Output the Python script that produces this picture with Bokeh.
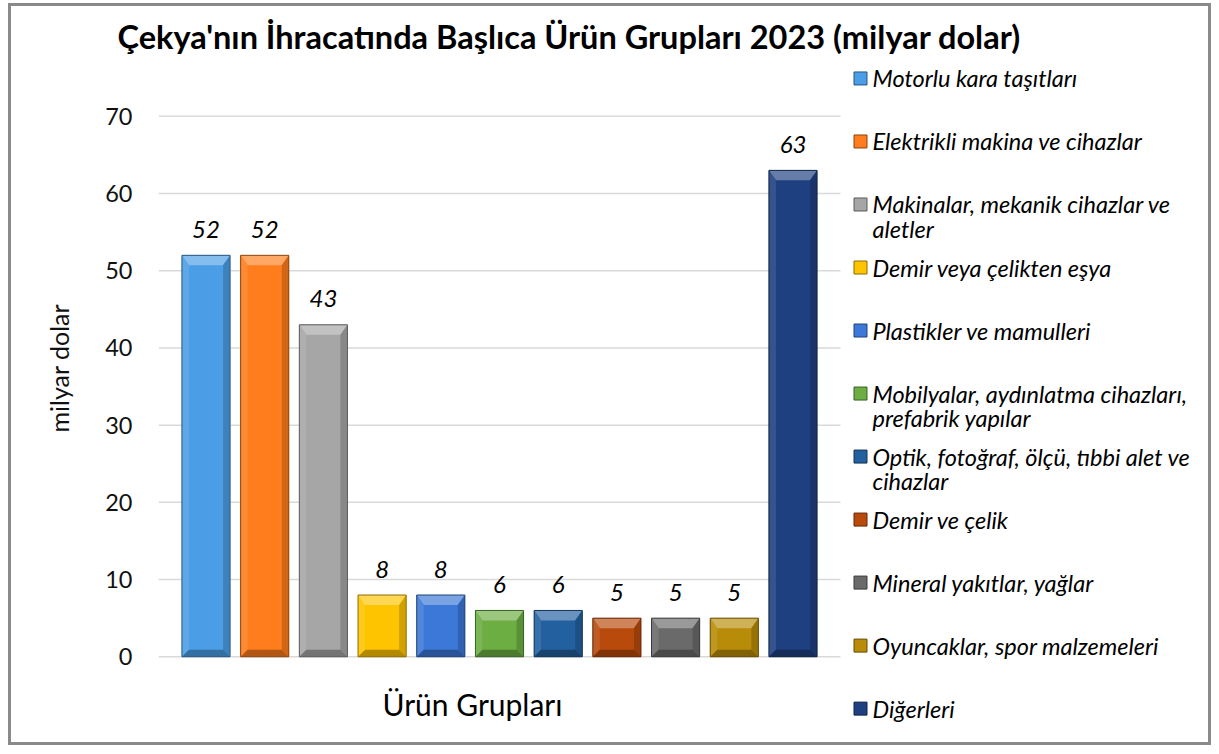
from bokeh.plotting import figure
from bokeh.models import FixedTicker, Title
from bokeh.core.properties import value
from bokeh.embed import file_html
from bokeh.resources import INLINE

# ---------------- data ----------------
title_text = "Çekya'nın İhracatında Başlıca Ürün Grupları 2023 (milyar dolar)"
categories = [
    "Motorlu kara taşıtları",
    "Elektrikli makina ve cihazlar",
    "Makinalar, mekanik cihazlar ve aletler",
    "Demir veya çelikten eşya",
    "Plastikler ve mamulleri",
    "Mobilyalar, aydınlatma cihazları, prefabrik yapılar",
    "Optik, fotoğraf, ölçü, tıbbi alet ve cihazlar",
    "Demir ve çelik",
    "Mineral yakıtlar, yağlar",
    "Oyuncaklar, spor malzemeleri",
    "Diğerleri",
]
legend_lines = [
    ["Motorlu kara taşıtları"],
    ["Elektrikli makina ve cihazlar"],
    ["Makinalar, mekanik cihazlar ve", "aletler"],
    ["Demir veya çelikten eşya"],
    ["Plastikler ve mamulleri"],
    ["Mobilyalar, aydınlatma cihazları,", "prefabrik yapılar"],
    ["Optik, fotoğraf, ölçü, tıbbi alet ve", "cihazlar"],
    ["Demir ve çelik"],
    ["Mineral yakıtlar, yağlar"],
    ["Oyuncaklar, spor malzemeleri"],
    ["Diğerleri"],
]
values = [52, 52, 43, 8, 8, 6, 6, 5, 5, 5, 63]
colors = ["#4b9ee6", "#ff7d1c", "#a6a6a6", "#ffc400", "#3c78d8", "#6cae42",
          "#22609f", "#b84a0c", "#6a6a6a", "#b88c08", "#1f4080"]
y_ticks = [0, 10, 20, 30, 40, 50, 60, 70]
x_title = "Ürün Grupları"
y_title = "milyar dolar"

# ---------------- geometry (page pixels) ----------------
OX, OY = 11, 6            # canvas origin on the page (margin + border)
W, H = 1203, 742          # canvas size
FRAME_L, FRAME_T = 158, 62  # frame left / top on the page
X0_PX, PX_PER_X = 205.5, 58.7
Y0_PX, PX_PER_Y = 656.0, 7.743
GRID_R = 840


def cx(px):
    return (px - X0_PX) / PX_PER_X


def cy(py):
    return (Y0_PX - py) / PX_PER_Y


def mix(hex_color, target, t):
    h = hex_color.lstrip("#")
    r, g, b = (int(h[i:i + 2], 16) for i in (0, 2, 4))
    tr, tg, tb = target
    r = round(r + (tr - r) * t)
    g = round(g + (tg - g) * t)
    b = round(b + (tb - b) * t)
    return "#%02x%02x%02x" % (r, g, b)


WHITE, BLACK = (255, 255, 255), (0, 0, 0)

p = figure(width=W, height=H, output_backend="svg", toolbar_location=None,
           x_range=(cx(FRAME_L), cx(OX + W)), y_range=(cy(OY + H), cy(FRAME_T)),
           x_axis_location=None,
           min_border_left=FRAME_L - OX, min_border_top=FRAME_T - OY,
           min_border_right=0, min_border_bottom=0)
p.styles = {"border": "3px solid #8a8a8a", "margin-left": "8px", "margin-top": "3px"}
p.outline_line_color = None
p.background_fill_color = "white"
p.border_fill_color = "white"
p.xgrid.visible = False
p.ygrid.visible = False

# title
p.title.text = title_text
p.title.text_font = "Lato"
p.title.text_font_size = "32.5px"
p.title.text_font_style = "bold"
p.title.text_color = "#000000"
p.title.align = "left"
p.title.offset = 117 - FRAME_L
p.title.standoff = 17

# y axis
ax = p.yaxis[0]
ax.ticker = FixedTicker(ticks=y_ticks)
ax.bounds = (0, 70)
ax.axis_line_color = None
ax.major_tick_line_color = None
ax.minor_tick_line_color = None
ax.major_tick_out = 0
ax.major_label_standoff = 26
ax.major_label_text_font = "Lato"
ax.major_label_text_font_size = "23.5px"
ax.major_label_text_color = "#111111"

# y axis title (side panel), starting where the reference text starts
p.add_layout(Title(text=y_title, align="left", offset=(OY + H) - 432,
                   standoff=57, text_font="Lato", text_font_size="25px",
                   text_font_style="normal", text_color="#111111"), "left")

# gridlines (stop at the end of the bar area)
n = len(y_ticks)
p.segment(x0=[cx(FRAME_L)] * n, x1=[cx(GRID_R)] * n, y0=y_ticks, y1=y_ticks,
          line_color="#d9d9d9", line_width=1.5)

idx = list(range(len(values)))
bw = 0.82
dark_lines = [mix(c, BLACK, 0.45) for c in colors]

# bars
p.vbar(x=idx, top=values, bottom=0, width=bw, fill_color=colors,
       line_color=None)

# bevel facets derived from each bar's value
ex = 7 / PX_PER_X
ey_top = 10 / PX_PER_Y
ey_bot = 7 / PX_PER_Y
xs, ys, fc = [], [], []
for i, v in zip(idx, values):
    L, R = i - bw / 2, i + bw / 2
    c = colors[i]
    xs.append([L, R, R - ex, L + ex]); ys.append([v, v, v - ey_top, v - ey_top]); fc.append(mix(c, WHITE, 0.32))
    xs.append([L, L + ex, L + ex, L]); ys.append([v, v - ey_top, ey_bot, 0]); fc.append(mix(c, WHITE, 0.10))
    xs.append([R, R - ex, R - ex, R]); ys.append([v, v - ey_top, ey_bot, 0]); fc.append(mix(c, BLACK, 0.18))
    xs.append([L, R, R - ex, L + ex]); ys.append([0, 0, ey_bot, ey_bot]); fc.append(mix(c, BLACK, 0.30))
p.patches(xs=xs, ys=ys, fill_color=fc, line_color=None)
p.vbar(x=idx, top=values, bottom=0, width=bw, fill_color=None,
       line_color=dark_lines, line_width=1)

# value labels
p.text(x=idx, y=values, text=[str(v) for v in values], y_offset=-26,
       text_align="center", text_baseline="middle", text_font=value("Lato"),
       text_font_style="italic", text_font_size="24px", text_color="#000000")

# legend (manual)
leg_y0, leg_step, line_gap = 76, 63.2, 24.5
sq_x, txt_x = cx(860), cx(872)
sq_y = [cy(leg_y0 + leg_step * i) for i in idx]
p.scatter(x=[sq_x] * len(idx), y=sq_y, marker="square", size=13,
          fill_color=colors, line_color=dark_lines, line_width=1)
lx, ly, lt = [], [], []
for i, lines in enumerate(legend_lines):
    for k, t in enumerate(lines):
        lx.append(txt_x)
        ly.append(cy(leg_y0 + leg_step * i + line_gap * k))
        lt.append(t)
p.text(x=lx, y=ly, text=lt, text_align="left", text_baseline="middle",
       text_font=value("Lato"), text_font_style="italic", text_font_size="23.5px",
       text_color="#000000")

# x axis title
p.text(x=[cx(472)], y=[cy(703)], text=[x_title], text_align="center",
       text_baseline="middle", text_font=value("Lato"), text_font_size="30px",
       text_color="#000000")

open("out.html", "w").write(file_html(p, INLINE))
